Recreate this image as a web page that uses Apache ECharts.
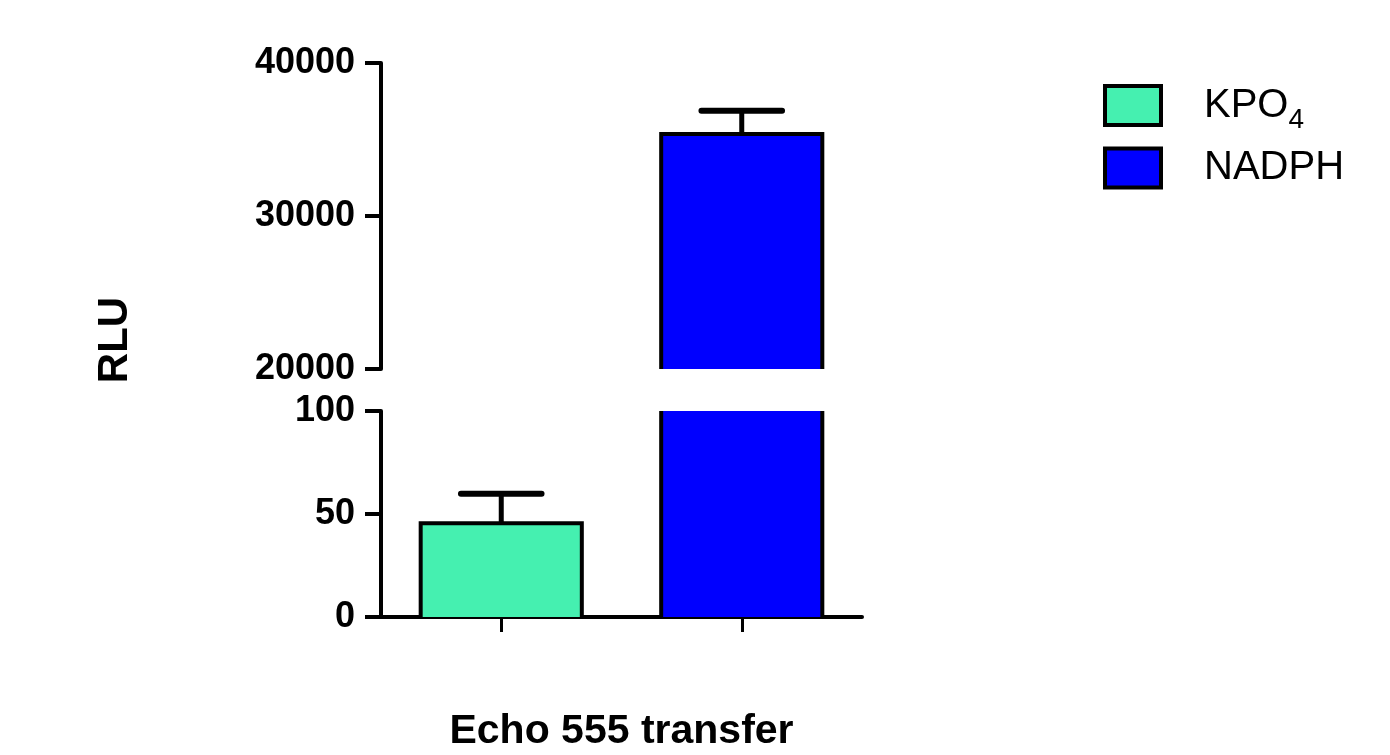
<!DOCTYPE html>
<html><head><meta charset="utf-8">
<script src="https://cdn.jsdelivr.net/npm/echarts@6/dist/echarts.min.js"></script>
<style>html,body{margin:0;padding:0;background:#fff}#c{width:1390px;height:755px}</style>
</head><body><div id="c"></div>
<script>
const categories = ['KPO4', 'NADPH'];
const seriesNames = ['KPO4', 'NADPH'];
const means = [45.5, 35360];
const sds = [14.3, 1525];
const upperRange = [20000, 40000, 10000];
const lowerRange = [0, 100, 50];
const colors = ['#45F0B0', '#0000FF'];
const xAxisName = 'Echo 555 transfer';
const yAxisName = 'RLU';

const SANS = "'Liberation Sans',Arial,sans-serif";

function renderBarWithError(params, api) {
  const cs = params.coordSys;
  const idx = api.value(0), mean = api.value(1), sd = api.value(2);
  const top = cs.y, bottom = cs.y + cs.height;
  const pMean = api.coord([idx, mean]);
  const cx = pMean[0];
  const yMean = pMean[1];
  const yErr = api.coord([idx, mean + sd])[1];
  const w = api.size([1, 0])[0] * 0.67;
  if (yMean > bottom) return null;
  const clipped = yMean < top;
  const yT = clipped ? top : yMean;
  const children = [];
  children.push({type: 'rect', shape: {x: cx - w / 2, y: yT, width: w, height: bottom - yT}, style: {fill: api.visual('color')}});
  const bs = {stroke: '#000', lineWidth: 4, fill: null, lineJoin: 'miter'};
  if (clipped) {
    children.push({type: 'line', shape: {x1: cx - w / 2, y1: top, x2: cx - w / 2, y2: bottom}, style: bs});
    children.push({type: 'line', shape: {x1: cx + w / 2, y1: top, x2: cx + w / 2, y2: bottom}, style: bs});
  } else {
    children.push({type: 'polyline', shape: {points: [[cx - w / 2, bottom], [cx - w / 2, yMean], [cx + w / 2, yMean], [cx + w / 2, bottom]]}, style: bs});
    const cw = w * 0.5;
    children.push({type: 'line', shape: {x1: cx, y1: yMean, x2: cx, y2: yErr}, style: {stroke: '#000', lineWidth: 5}});
    children.push({type: 'line', shape: {x1: cx - cw / 2, y1: yErr, x2: cx + cw / 2, y2: yErr}, style: {stroke: '#000', lineWidth: 6, lineCap: 'round'}});
  }
  return {type: 'group', children};
}

const series = [];
[0, 1].forEach(g => {
  seriesNames.forEach((n, i) => {
    series.push({
      type: 'custom', name: n, xAxisIndex: g, yAxisIndex: g,
      itemStyle: {color: colors[i], borderColor: '#000', borderWidth: 4},
      renderItem: renderBarWithError,
      data: [[i, means[i], sds[i]]]
    });
  });
});

const yLabel = {fontFamily: SANS, fontWeight: 'bold', fontSize: 36, color: '#000', margin: 26, formatter: v => String(v)};
const axisLine = {show: true, lineStyle: {color: '#000', width: 4}};
const axisTickY = {show: true, length: 16, lineStyle: {color: '#000', width: 4}};

const chart = echarts.init(document.getElementById('c'));
chart.setOption({
  animation: false,
  backgroundColor: '#fff',
  grid: [
    {left: 381, width: 481, top: 63, height: 306},
    {left: 381, width: 481, top: 411, height: 206}
  ],
  xAxis: [
    {gridIndex: 0, type: 'category', data: categories, show: false},
    {gridIndex: 1, type: 'category', data: categories,
      axisLine: axisLine,
      axisTick: {show: true, alignWithLabel: true, length: 15, lineStyle: {color: '#000', width: 3}},
      axisLabel: {show: false},
      name: xAxisName, nameLocation: 'middle', nameGap: 94,
      nameTextStyle: {fontFamily: SANS, fontWeight: 'bold', fontSize: 41, color: '#000'}
    }
  ],
  yAxis: [
    {gridIndex: 0, type: 'value', min: upperRange[0], max: upperRange[1], interval: upperRange[2],
      axisLine: axisLine, axisTick: axisTickY, axisLabel: yLabel, splitLine: {show: false}},
    {gridIndex: 1, type: 'value', min: lowerRange[0], max: lowerRange[1], interval: lowerRange[2],
      axisLine: axisLine, axisTick: axisTickY, axisLabel: yLabel, splitLine: {show: false}}
  ],
  legend: {
    orient: 'vertical', left: 1098, top: 79, itemWidth: 56, itemHeight: 39, itemGap: 12,
    icon: 'rect',
    itemStyle: {borderColor: '#000', borderWidth: 4},
    data: seriesNames,
    formatter: n => n === 'KPO4' ? '{a|KPO}{s|4}' : '{a|NADPH}',
    textStyle: {
      rich: {
        a: {fontSize: 40, fontFamily: SANS, color: '#000', padding: [0, 0, 0, 38]},
        s: {fontSize: 28, fontFamily: SANS, color: '#000', padding: [30, 0, 0, 0]}
      }
    }
  },
  graphic: [{
    type: 'text', x: 115, y: 340, rotation: Math.PI / 2,
    style: {text: yAxisName, fontFamily: SANS, fontWeight: 'bold', fontSize: 42, fill: '#000', align: 'center', verticalAlign: 'middle'}
  }],
  series: series
});
</script></body></html>
